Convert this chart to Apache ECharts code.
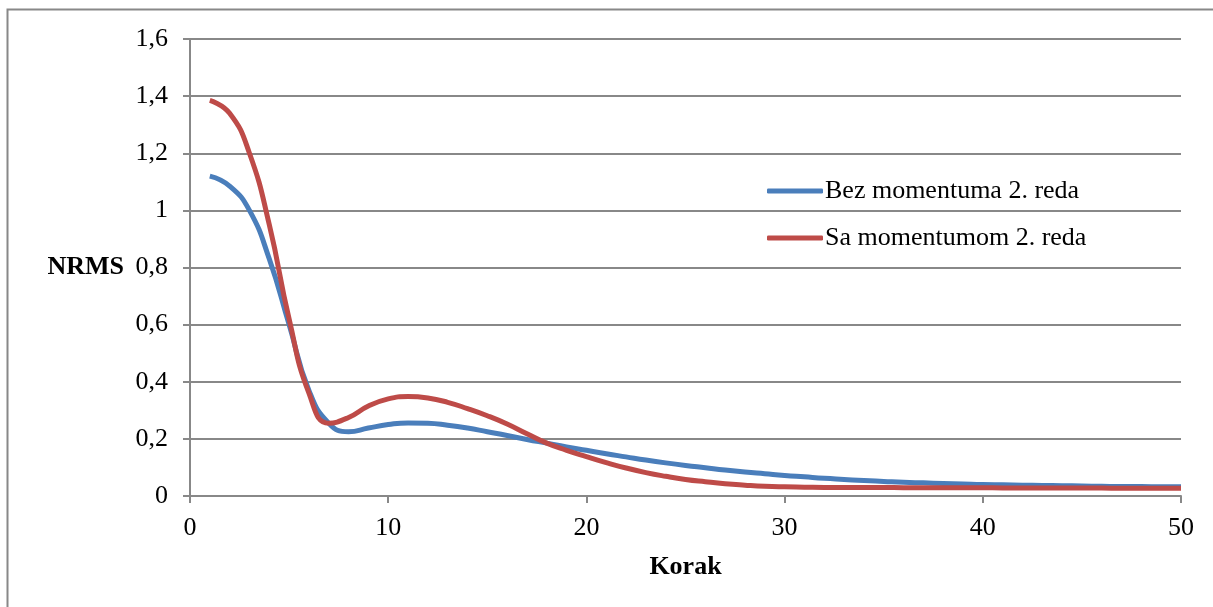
<!DOCTYPE html>
<html>
<head>
<meta charset="utf-8">
<script src="https://cdn.jsdelivr.net/npm/echarts@6/dist/echarts.min.js"></script>
<style>
html,body{margin:0;padding:0;background:#fff;}
#chart{width:1213px;height:607px;}
</style>
</head>
<body>
<div id="chart"></div>
<script>
const steps = [1,2,3,4,5,6,7,8,9,10,11,12,13,14,15,16,17,18,19,20,21,22,23,24,25,26,27,28,29,30,31,32,33,34,35,36,37,38,39,40,41,42,43,44,45,46,47,48,49,50];
const bezMomentuma = [1.12,1.085,1.0,0.83,0.60,0.37,0.255,0.225,0.238,0.25,0.256,0.255,0.248,0.238,0.225,0.212,0.198,0.185,0.172,0.16,0.148,0.137,0.126,0.116,0.107,0.099,0.091,0.084,0.078,0.072,0.067,0.062,0.058,0.054,0.051,0.048,0.046,0.044,0.042,0.040,0.039,0.038,0.037,0.036,0.035,0.034,0.033,0.033,0.032,0.032];
const saMomentumom = [1.385,1.34,1.2,0.95,0.62,0.36,0.255,0.275,0.315,0.34,0.348,0.343,0.328,0.306,0.281,0.252,0.218,0.185,0.16,0.138,0.117,0.098,0.082,0.069,0.058,0.05,0.043,0.038,0.034,0.032,0.031,0.030,0.030,0.030,0.030,0.029,0.029,0.029,0.029,0.029,0.028,0.028,0.028,0.028,0.028,0.028,0.027,0.027,0.027,0.027];
const seriesNames = ['Bez momentuma 2. reda','Sa momentumom 2. reda'];
const xName = 'Korak';
const yName = 'NRMS';

const font = 'Liberation Serif';
const fs = 26;
const chart = echarts.init(document.getElementById('chart'));
chart.setOption({
  animation: false,
  backgroundColor: '#fff',
  grid: {left: 190, right: 32, top: 39, bottom: 111, containLabel: false},
  graphic: [{
    type: 'rect', left: 5, top: 7, silent: true,
    shape: {x: 0, y: 0, width: 1240, height: 720},
    style: {fill: 'none', stroke: '#888', lineWidth: 2}
  }],
  legend: {
    orient: 'vertical', left: 762, top: 173, itemWidth: 56, itemHeight: 5, itemGap: 21,
    icon: 'roundRect',
    itemStyle: {borderWidth: 0},
    textStyle: {fontFamily: font, fontSize: fs, color: '#000', padding: [0,0,0,-3]},
    data: seriesNames
  },
  xAxis: {
    type: 'value', min: 0, max: 50, interval: 10,
    name: xName, nameLocation: 'middle', nameGap: 58,
    nameTextStyle: {fontFamily: font, fontSize: fs, fontWeight: 'bold', color: '#000'},
    axisLine: {show: true, onZero: false, lineStyle: {color: '#888', width: 2}},
    axisTick: {show: true, length: 7, lineStyle: {color: '#888', width: 2}},
    axisLabel: {fontFamily: font, fontSize: fs, color: '#000', margin: 19},
    splitLine: {show: false}
  },
  yAxis: {
    type: 'value', min: 0, max: 1.6, interval: 0.2,
    name: yName, nameLocation: 'middle', nameRotate: 0, nameGap: 66,
    nameTextStyle: {fontFamily: font, fontSize: fs, fontWeight: 'bold', color: '#000', align: 'right'},
    axisLine: {show: true, lineStyle: {color: '#888', width: 2}},
    axisTick: {show: true, length: 7, lineStyle: {color: '#888', width: 2}},
    axisLabel: {fontFamily: font, fontSize: fs, color: '#000', margin: 22,
      formatter: v => String(Math.round(v*10)/10).replace('.', ',')},
    splitLine: {show: true, lineStyle: {color: '#888', width: 2}}
  },
  series: [
    {name: seriesNames[0], type: 'line', smooth: 0.5, symbol: 'none',
     data: steps.map((s,i) => [s, bezMomentuma[i]]),
     lineStyle: {color: '#4A7EBB', width: 5}, itemStyle: {color: '#4A7EBB'}},
    {name: seriesNames[1], type: 'line', smooth: 0.5, symbol: 'none',
     data: steps.map((s,i) => [s, saMomentumom[i]]),
     lineStyle: {color: '#BE4B48', width: 5}, itemStyle: {color: '#BE4B48'}}
  ]
});
</script>
</body>
</html>
